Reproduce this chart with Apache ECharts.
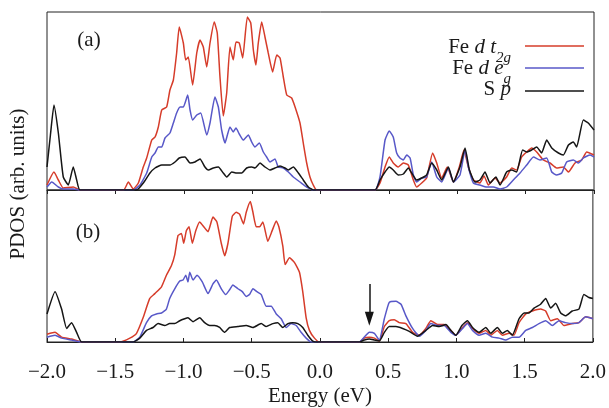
<!DOCTYPE html>
<html><head><meta charset="utf-8">
<script src="https://cdn.jsdelivr.net/npm/echarts@6.0.0/dist/echarts.min.js"></script>
<style>html,body{margin:0;padding:0;background:#fff}#c{width:609px;height:408px}</style>
</head><body><div id="c"></div>
<script>
// Energy ticks (eV)
const xTicks = [-2.0, -1.5, -1.0, -0.5, 0.0, 0.5, 1.0, 1.5, 2.0];
const panelLabels = ['(a)', '(b)'];
const seriesNames = ['Fe d t2g', 'Fe d eg', 'S p'];

// Panel (a): [energy, PDOS]
const aT2g = [[-2.0,5],[-1.949,18],[-1.917,10],[-1.881,2],[-1.808,3],[-1.76,0],[-1.44,0],[-1.405,8],[-1.369,1],[-1.332,7],[-1.296,23],[-1.271,32],[-1.234,50],[-1.210,53],[-1.186,63],[-1.161,80],[-1.125,83],[-1.101,100],[-1.076,110],[-1.052,137],[-1.033,163],[-1.003,147],[-0.986,130],[-0.967,133],[-0.935,105],[-0.905,137],[-0.881,150],[-0.857,143],[-0.832,123],[-0.808,147],[-0.777,168],[-0.755,157],[-0.735,113],[-0.711,74],[-0.686,97],[-0.662,143],[-0.638,130],[-0.618,148],[-0.594,147],[-0.569,132],[-0.535,173],[-0.510,167],[-0.491,140],[-0.472,125],[-0.455,147],[-0.430,168],[-0.406,153],[-0.382,137],[-0.350,118],[-0.320,135],[-0.296,132],[-0.272,113],[-0.247,95],[-0.211,92],[-0.186,83],[-0.150,67],[-0.126,47],[-0.101,27],[-0.077,13],[-0.053,5],[-0.028,0],[0.399,0],[0.435,7],[0.472,23],[0.503,33],[0.532,27],[0.569,23],[0.606,27],[0.642,25],[0.679,10],[0.703,3],[0.740,7],[0.776,12],[0.820,37],[0.850,27],[0.886,12],[0.927,23],[0.972,8],[1.015,23],[1.049,40],[1.081,23],[1.118,10],[1.166,7],[1.196,14],[1.228,5],[1.276,12],[1.313,7],[1.361,13],[1.398,22],[1.434,20],[1.471,33],[1.508,38],[1.544,42],[1.581,38],[1.630,30],[1.678,27],[1.727,22],[1.776,23],[1.813,18],[1.861,27],[1.910,30],[1.947,38],[2.0,35]];
const aEg = [[-2.0,3],[-1.965,8],[-1.917,3],[-1.881,1],[-1.808,1],[-1.76,0],[-1.369,0],[-1.320,5],[-1.271,17],[-1.234,33],[-1.210,37],[-1.186,43],[-1.161,43],[-1.137,52],[-1.101,57],[-1.076,67],[-1.052,77],[-1.027,83],[-1.003,83],[-0.971,95],[-0.954,80],[-0.935,70],[-0.905,75],[-0.876,77],[-0.832,55],[-0.808,67],[-0.772,93],[-0.747,83],[-0.723,60],[-0.698,47],[-0.681,55],[-0.662,63],[-0.638,58],[-0.618,62],[-0.594,56],[-0.565,50],[-0.528,55],[-0.503,48],[-0.479,43],[-0.447,47],[-0.418,38],[-0.394,33],[-0.369,28],[-0.333,31],[-0.309,23],[-0.272,22],[-0.235,18],[-0.199,13],[-0.150,8],[-0.101,3],[-0.053,0],[0.399,0],[0.435,13],[0.472,50],[0.503,59],[0.532,53],[0.557,37],[0.581,32],[0.606,30],[0.630,35],[0.655,32],[0.679,15],[0.703,8],[0.740,12],[0.776,13],[0.813,28],[0.850,13],[0.886,8],[0.935,22],[0.972,8],[1.020,15],[1.057,40],[1.081,23],[1.118,7],[1.166,5],[1.215,3],[1.264,3],[1.313,1],[1.361,3],[1.410,10],[1.459,17],[1.508,25],[1.557,33],[1.605,30],[1.654,32],[1.691,18],[1.727,15],[1.764,17],[1.800,28],[1.849,30],[1.886,27],[1.922,32],[1.971,35],[2.0,33]];
const aSp = [[-2.0,23],[-1.975,55],[-1.949,85],[-1.917,57],[-1.881,13],[-1.844,5],[-1.808,23],[-1.783,10],[-1.759,0],[-1.344,0],[-1.296,7],[-1.247,17],[-1.210,22],[-1.161,25],[-1.101,25],[-1.064,28],[-1.033,32],[-0.991,33],[-0.954,27],[-0.918,28],[-0.881,31],[-0.845,23],[-0.820,20],[-0.784,22],[-0.747,23],[-0.711,17],[-0.686,13],[-0.649,18],[-0.613,17],[-0.576,17],[-0.540,22],[-0.503,23],[-0.479,22],[-0.442,27],[-0.406,23],[-0.369,20],[-0.333,22],[-0.296,24],[-0.260,22],[-0.235,20],[-0.199,23],[-0.162,17],[-0.126,10],[-0.089,3],[-0.053,0],[0.399,0],[0.435,10],[0.472,18],[0.503,23],[0.532,20],[0.569,15],[0.606,16],[0.642,22],[0.667,17],[0.703,10],[0.740,12],[0.776,15],[0.813,27],[0.850,20],[0.886,10],[0.935,23],[0.972,8],[1.020,23],[1.057,42],[1.089,20],[1.130,8],[1.166,10],[1.203,18],[1.240,7],[1.283,13],[1.313,5],[1.361,18],[1.398,20],[1.434,18],[1.478,40],[1.508,38],[1.544,40],[1.581,43],[1.617,37],[1.654,50],[1.691,42],[1.740,37],[1.776,35],[1.813,45],[1.849,48],[1.873,43],[1.922,70],[1.958,67],[2.0,60]];

// Panel (b): [energy, PDOS]
const bT2g = [[-2.0,8],[-1.941,10],[-1.893,5],[-1.820,3],[-1.746,0],[-1.466,0],[-1.393,4],[-1.344,9],[-1.296,25],[-1.247,45],[-1.210,50],[-1.161,57],[-1.125,69],[-1.088,79],[-1.064,90],[-1.040,110],[-1.015,112],[-0.998,102],[-0.979,115],[-0.959,119],[-0.935,102],[-0.910,115],[-0.881,124],[-0.857,120],[-0.820,114],[-0.784,129],[-0.755,124],[-0.723,102],[-0.698,89],[-0.674,102],[-0.642,130],[-0.613,134],[-0.589,132],[-0.560,122],[-0.540,134],[-0.510,145],[-0.491,134],[-0.467,119],[-0.442,119],[-0.418,124],[-0.382,104],[-0.350,115],[-0.320,125],[-0.301,119],[-0.272,99],[-0.255,80],[-0.223,87],[-0.186,82],[-0.150,72],[-0.126,52],[-0.101,25],[-0.077,12],[-0.040,4],[-0.004,0],[0.289,0],[0.325,4],[0.362,5],[0.399,4],[0.435,1],[0.472,16],[0.508,22],[0.545,23],[0.581,20],[0.630,19],[0.679,10],[0.728,7],[0.776,14],[0.813,22],[0.862,18],[0.910,18],[0.959,12],[0.996,7],[1.045,15],[1.081,20],[1.118,14],[1.166,9],[1.215,12],[1.252,7],[1.300,12],[1.337,7],[1.386,9],[1.422,7],[1.459,20],[1.508,29],[1.557,32],[1.617,34],[1.654,32],[1.691,22],[1.740,24],[1.788,17],[1.849,19],[1.898,20],[1.947,26],[2.0,24]];
const bEg = [[-2.0,5],[-1.941,7],[-1.893,4],[-1.820,2],[-1.746,0],[-1.369,0],[-1.320,5],[-1.271,20],[-1.234,27],[-1.198,29],[-1.161,30],[-1.125,34],[-1.101,45],[-1.064,55],[-1.027,63],[-1.003,64],[-0.983,69],[-0.967,62],[-0.954,72],[-0.930,64],[-0.901,69],[-0.862,62],[-0.820,50],[-0.784,60],[-0.759,64],[-0.723,55],[-0.691,49],[-0.662,54],[-0.638,59],[-0.601,55],[-0.569,52],[-0.540,47],[-0.516,49],[-0.491,55],[-0.462,52],[-0.430,49],[-0.394,37],[-0.357,37],[-0.320,29],[-0.284,24],[-0.247,15],[-0.211,19],[-0.174,17],[-0.138,10],[-0.101,4],[-0.065,0],[0.289,0],[0.325,5],[0.362,10],[0.399,9],[0.435,2],[0.472,24],[0.508,41],[0.557,42],[0.594,39],[0.630,27],[0.679,14],[0.728,6],[0.776,12],[0.813,19],[0.862,17],[0.910,17],[0.959,10],[0.996,7],[1.045,14],[1.081,19],[1.118,12],[1.166,7],[1.215,9],[1.264,5],[1.313,4],[1.361,2],[1.410,5],[1.459,5],[1.508,12],[1.557,15],[1.605,19],[1.654,22],[1.703,17],[1.752,22],[1.800,20],[1.849,19],[1.898,20],[1.947,26],[2.0,24]];
const bSp = [[-2.0,29],[-1.941,52],[-1.893,34],[-1.856,14],[-1.820,20],[-1.783,10],[-1.746,0],[-1.369,0],[-1.320,4],[-1.271,12],[-1.223,15],[-1.186,19],[-1.137,17],[-1.101,19],[-1.064,19],[-1.027,22],[-0.991,24],[-0.967,25],[-0.930,21],[-0.881,25],[-0.845,20],[-0.808,17],[-0.772,17],[-0.735,15],[-0.698,10],[-0.662,15],[-0.601,16],[-0.540,17],[-0.491,15],[-0.430,19],[-0.394,16],[-0.345,19],[-0.309,20],[-0.272,15],[-0.235,19],[-0.199,20],[-0.162,19],[-0.126,15],[-0.089,7],[-0.053,1],[-0.016,0],[0.289,0],[0.325,2],[0.362,3],[0.399,2],[0.435,1],[0.472,10],[0.508,16],[0.557,16],[0.606,14],[0.655,11],[0.715,6],[0.776,12],[0.825,17],[0.874,16],[0.923,18],[0.959,12],[0.996,7],[1.040,17],[1.081,22],[1.118,15],[1.166,10],[1.215,15],[1.252,9],[1.300,15],[1.337,9],[1.373,12],[1.410,7],[1.459,24],[1.496,30],[1.532,30],[1.569,35],[1.617,39],[1.654,45],[1.691,35],[1.727,40],[1.764,30],[1.800,27],[1.849,32],[1.898,34],[1.934,49],[1.971,46],[2.0,45]];

// Arrow marking the in-gap state in (b): energy, PDOS start, PDOS tip
const arrowE = 0.362, arrowFrom = 60, arrowTip = 24;

const FONT = 'Liberation Serif';
const RED = '#d63c2a', BLUE = '#5858c8', BLACK = '#151515', AXIS = '#222';

const chart = echarts.init(document.getElementById('c'), null, {renderer: 'canvas'});

function line(name, data, color, idx, z, extra) {
  return Object.assign({
    type: 'line', name, data, xAxisIndex: idx, yAxisIndex: idx,
    showSymbol: false, symbol: 'none', smooth: 0.15, z,
    lineStyle: {color, width: 1.5}, itemStyle: {color}, animation: false
  }, extra || {});
}
const fmt = v => (v < 0 ? '\u2212' : '') + Math.abs(v).toFixed(1);
const subRich = {
  n: {fontFamily: FONT, fontSize: 21, lineHeight: 22, verticalAlign: 'top'},
  i: {fontFamily: FONT, fontSize: 21, lineHeight: 22, fontStyle: 'italic', verticalAlign: 'top'},
  s: {fontFamily: FONT, fontSize: 15, lineHeight: 15, fontStyle: 'italic', padding: [14, 0, 0, 0], verticalAlign: 'top'}
};

const option = {
  animation: false,
  backgroundColor: '#fff',
  grid: [
    {left: 47, right: 15, top: 12, height: 178, show: true, borderColor: AXIS, borderWidth: 1, backgroundColor: 'transparent'},
    {left: 47, right: 15, top: 190, height: 157, show: true, borderColor: AXIS, borderWidth: 1, backgroundColor: 'transparent'}
  ],
  xAxis: [
    {gridIndex: 0, type: 'value', min: xTicks[0], max: xTicks[xTicks.length-1], interval: 0.5,
     axisLine: {show: true, onZero: false, lineStyle: {color: AXIS, width: 1}},
     axisTick: {show: true, inside: false, length: 4, lineStyle: {color: AXIS}},
     axisLabel: {show: false}, splitLine: {show: false}},
    {gridIndex: 1, type: 'value', min: xTicks[0], max: xTicks[xTicks.length-1], interval: 0.5,
     axisLine: {show: true, onZero: false, lineStyle: {color: AXIS, width: 1}},
     axisTick: {show: true, inside: true, length: 4, lineStyle: {color: AXIS}},
     axisLabel: {show: true, formatter: fmt, fontFamily: FONT, fontSize: 21, color: '#1a1a1a', margin: 20},
     splitLine: {show: false},
     name: 'Energy (eV)', nameLocation: 'middle', nameGap: 44,
     nameTextStyle: {fontFamily: FONT, fontSize: 21, color: '#1a1a1a'}}
  ],
  yAxis: [
    {gridIndex: 0, type: 'value', min: 0, max: 178, show: false},
    {gridIndex: 1, type: 'value', min: 0, max: 157, show: false}
  ],
  series: [
    line(seriesNames[0], aT2g, RED, 0, 2),
    line(seriesNames[1], aEg, BLUE, 0, 3),
    line(seriesNames[2], aSp, BLACK, 0, 4),
    line(seriesNames[0], bT2g, RED, 1, 2),
    line(seriesNames[1], bEg, BLUE, 1, 3),
    line(seriesNames[2], bSp, BLACK, 1, 4, {
      markLine: {
        silent: true, symbol: ['none', 'triangle'], symbolSize: [9, 14],
        lineStyle: {color: BLACK, width: 1.5, type: 'solid'},
        label: {show: false},
        data: [[{coord: [arrowE, arrowFrom]}, {coord: [arrowE, arrowTip]}]]
      }
    })
  ],
  graphic: [
    {type: 'text', x: 18, y: 184, rotation: Math.PI / 2,
     style: {text: 'PDOS (arb. units)', fontFamily: FONT, fontSize: 21, fill: '#1a1a1a', align: 'center', verticalAlign: 'middle'}},
    {type: 'text', x: 89, y: 40, style: {text: panelLabels[0], fontFamily: FONT, fontSize: 21, fill: '#1a1a1a', align: 'center', verticalAlign: 'middle'}},
    {type: 'text', x: 88, y: 232, style: {text: panelLabels[1], fontFamily: FONT, fontSize: 21, fill: '#1a1a1a', align: 'center', verticalAlign: 'middle'}},
    // legend
    {type: 'text', x: 511, y: 47.5, style: {text: '{n|Fe }{i|d t}{s|2g}', align: 'right', verticalAlign: 'middle', fill: '#1a1a1a', rich: subRich}},
    {type: 'text', x: 511, y: 68.5, style: {text: '{n|Fe }{i|d e}{s|g}', align: 'right', verticalAlign: 'middle', fill: '#1a1a1a', rich: subRich}},
    {type: 'text', x: 511, y: 89, style: {text: '{n|S }{i|p}', align: 'right', verticalAlign: 'middle', fill: '#1a1a1a',
      rich: {n: {fontFamily: FONT, fontSize: 21, lineHeight: 22},
             i: {fontFamily: FONT, fontSize: 21, lineHeight: 22, fontStyle: 'italic'}}}},
    {type: 'line', shape: {x1: 525, y1: 46, x2: 584, y2: 46}, style: {stroke: RED, lineWidth: 1.5}},
    {type: 'line', shape: {x1: 525, y1: 68, x2: 584, y2: 68}, style: {stroke: BLUE, lineWidth: 1.5}},
    {type: 'line', shape: {x1: 525, y1: 91, x2: 584, y2: 91}, style: {stroke: BLACK, lineWidth: 1.5}}
  ]
};
chart.setOption(option);
</script>
</body></html>
